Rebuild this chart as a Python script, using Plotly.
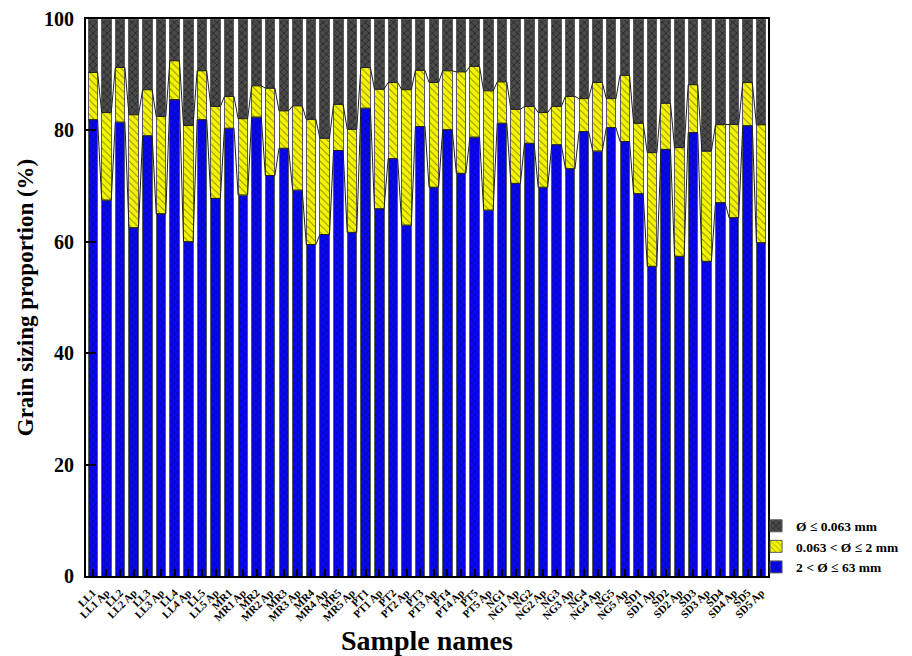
import numpy as np
import plotly.graph_objects as go

# Sample names (x axis categories)
samples = [
    "LL1", "LL1 Ap", "LL2", "LL2 Ap", "LL3", "LL3 Ap", "LL4", "LL4 Ap", "LL5", "LL5 Ap",
    "MR1", "MR1 Ap", "MR2", "MR2 Ap", "MR3", "MR3 Ap", "MR4", "MR4 Ap", "MR5", "MR5 Ap",
    "PT1", "PT1 Ap", "PT2", "PT2 Ap", "PT3", "PT3 Ap", "PT4", "PT4 Ap", "PT5", "PT5 Ap",
    "NG1", "NG1 Ap", "NG2", "NG2 Ap", "NG3", "NG3 Ap", "NG4", "NG4 Ap", "NG5", "NG5 Ap",
    "SD1", "SD1 Ap", "SD2", "SD2 Ap", "SD3", "SD3 Ap", "SD4", "SD4 Ap", "SD5", "SD5 Ap",
]

# Grain size fractions (%)
coarse = [  # 2 < Ø ≤ 63 mm
    81.9, 67.5, 81.5, 62.5, 79.0, 65.0, 85.5, 60.0, 81.9, 67.8,
    80.4, 68.4, 82.4, 71.9, 76.8, 69.3, 59.5, 61.3, 76.4, 61.7,
    84.0, 65.9, 74.9, 63.0, 80.7, 69.8, 80.1, 72.3, 78.8, 65.7,
    81.3, 70.5, 77.7, 69.8, 77.4, 73.1, 79.8, 76.3, 80.5, 78.0,
    68.6, 55.6, 76.6, 57.4, 79.6, 56.5, 67.0, 64.3, 80.8, 59.8,
]
medium = [  # 0.063 < Ø ≤ 2 mm
    8.5, 15.7, 9.8, 20.3, 8.3, 17.5, 7.0, 20.9, 8.8, 16.5,
    5.7, 13.7, 5.6, 15.7, 6.7, 15.1, 22.5, 17.3, 8.3, 18.5,
    7.3, 21.5, 13.7, 24.3, 10.1, 18.8, 10.6, 18.2, 12.7, 21.4,
    7.4, 13.3, 6.6, 13.4, 6.9, 13.0, 5.9, 12.3, 5.2, 11.9,
    12.7, 20.4, 8.3, 19.5, 8.6, 19.8, 14.0, 16.8, 7.8, 21.2,
]
fine = [  # Ø ≤ 0.063 mm
    9.6, 16.8, 8.7, 17.2, 12.7, 17.5, 7.5, 19.1, 9.3, 15.7,
    13.9, 17.9, 12.0, 12.4, 16.5, 15.6, 18.0, 21.4, 15.3, 19.8,
    8.7, 12.6, 11.4, 12.7, 9.2, 11.4, 9.3, 9.5, 8.5, 12.9,
    11.3, 16.2, 15.7, 16.8, 15.7, 13.9, 14.3, 11.4, 14.3, 10.1,
    18.7, 24.0, 15.1, 23.1, 11.8, 23.7, 19.0, 18.9, 11.4, 19.0,
]

series_names = ["2 < Ø ≤ 63 mm", "0.063 < Ø ≤ 2 mm", "Ø ≤ 0.063 mm"]
series_colors = ["#0808f0", "#f4f400", "#4a4a4a"]
pattern_shapes = ["x", "\\", "x"]
pattern_fg = ["#000030", "#1a1a00", "#000000"]
pattern_solidity = [0.22, 0.18, 0.3]

FONT = "Liberation Serif"
BAR_W = 0.7

x = np.arange(len(samples))
fig = go.Figure()

for vals, name, col, shp, fg, sol in zip([coarse, medium, fine], series_names,
                                        series_colors, pattern_shapes,
                                        pattern_fg, pattern_solidity):
    fig.add_trace(go.Bar(
        x=x, y=vals, name=name, width=BAR_W,
        marker=dict(color=col,
                    line=dict(color="#5a5a5a", width=1),
                    pattern=dict(shape=shp, fgcolor=fg, size=5, solidity=sol)),
    ))

# Connecting lines between the stack boundaries of adjacent columns
cum1 = np.array(coarse)
cum2 = cum1 + np.array(medium)
for cum in (cum1, cum2):
    lx, ly = [], []
    for i, v in enumerate(cum):
        lx += [i - BAR_W / 2, i + BAR_W / 2]
        ly += [v, v]
    fig.add_trace(go.Scatter(x=lx, y=ly, mode="lines", showlegend=False,
                             hoverinfo="skip",
                             line=dict(color="#202020", width=1)))

fig.update_layout(
    width=912, height=656,
    margin=dict(l=86, r=144, t=19, b=80, autoexpand=False),
    barmode="stack", bargap=0.3,
    plot_bgcolor="white", paper_bgcolor="white",
    font=dict(family=FONT, color="black"),
    legend=dict(xref="container", x=0.829, xanchor="left",
                yref="container", y=0.112, yanchor="bottom",
                traceorder="reversed",
                font=dict(family=FONT, size=13.5, color="black", weight="bold"),
                bgcolor="rgba(0,0,0,0)", itemwidth=30, tracegroupgap=0),
    xaxis=dict(
        range=[-0.5, len(samples) - 0.5], automargin=False,
        tickmode="array", tickvals=x, ticktext=samples, tickangle=-45,
        tickfont=dict(family=FONT, size=11, color="black", weight="bold"),
        ticks="inside", ticklen=7, tickwidth=1.5, tickcolor="black",
        ticklabelstandoff=4,
        showline=True, linecolor="black", linewidth=2, mirror=True,
        showgrid=False, zeroline=False,
        title=dict(text="Sample names", standoff=14,
                   font=dict(family=FONT, size=28, color="black", weight="bold")),
    ),
    yaxis=dict(
        range=[0, 100], tickvals=[0, 20, 40, 60, 80, 100], automargin=False,
        tickfont=dict(family=FONT, size=20, color="black", weight="bold"),
        ticks="inside", ticklen=10, tickwidth=1.5, tickcolor="black",
        ticklabelstandoff=6,
        showline=True, linecolor="black", linewidth=2, mirror=True,
        showgrid=False, zeroline=False,
        title=dict(text="Grain sizing proportion (%)", standoff=4,
                   font=dict(family=FONT, size=23, color="black", weight="bold")),
    ),
)

fig.write_html("out.html")
